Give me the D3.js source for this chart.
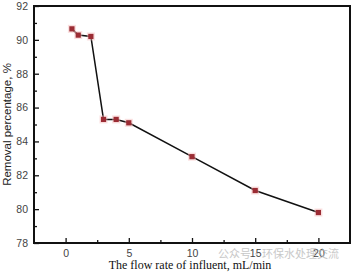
<!DOCTYPE html>
<html>
<head>
<meta charset="utf-8">
<script src="https://cdn.jsdelivr.net/npm/d3@7"></script>
<style>
  body { margin: 0; background: #fff; }
  svg { display: block; }
</style>
</head>
<body>
<div id="chart"></div>
<script>
const flowRates = [0.5, 1, 2, 3, 4, 5, 10, 15, 20];
const removal = [90.65, 90.28, 90.2, 85.3, 85.3, 85.1, 83.1, 81.1, 79.8];
const xTicks = [0, 5, 10, 15, 20];
const yTicks = [78, 80, 82, 84, 86, 88, 90, 92];

const width = 354, height = 273;
const plotLeft = 34, plotRight = 350, plotTop = 6, plotBottom = 243;

const svg = d3.select('#chart').append('svg')
  .attr('width', width)
  .attr('height', height);

const x = d3.scaleLinear().domain([-2.5, 22.5]).range([plotLeft, plotRight]);
const y = d3.scaleLinear().domain([78, 92]).range([plotBottom, plotTop]);

// minor ticks
const xMinor = [2.5, 7.5, 12.5, 17.5];
const yMinor = [79, 81, 83, 85, 87, 89, 91];

const axisColor = '#111';

// x axis (inward ticks)
svg.append('g').attr('transform', `translate(0,${plotBottom})`)
  .call(d3.axisBottom(x).tickValues(xTicks).tickSize(-5).tickPadding(7));
svg.append('g').attr('transform', `translate(0,${plotBottom})`)
  .call(d3.axisBottom(x).tickValues(xMinor).tickSize(-3).tickFormat(''));

svg.append('g').attr('transform', `translate(${plotLeft},0)`)
  .call(d3.axisLeft(y).tickValues(yTicks).tickSize(-5).tickPadding(6));
svg.append('g').attr('transform', `translate(${plotLeft},0)`)
  .call(d3.axisLeft(y).tickValues(yMinor).tickSize(-3).tickFormat(''));

svg.selectAll('.domain').remove();
svg.selectAll('.tick line').attr('stroke', axisColor).attr('stroke-width', 1.3);
svg.selectAll('.tick text')
  .attr('fill', '#444')
  .style('font-family', '"Liberation Sans", Arial, sans-serif')
  .style('font-size', '10.5px');

// frame
svg.append('rect')
  .attr('x', plotLeft).attr('y', plotTop)
  .attr('width', plotRight - plotLeft).attr('height', plotBottom - plotTop)
  .attr('fill', 'none')
  .attr('stroke', axisColor)
  .attr('stroke-width', 2);

// line
const line = d3.line().x((d, i) => x(flowRates[i])).y(d => y(d));
svg.append('path')
  .datum(removal)
  .attr('d', line)
  .attr('fill', 'none')
  .attr('stroke', '#111')
  .attr('stroke-width', 1.5);

// markers with soft halo
svg.selectAll('rect.halo')
  .data(removal)
  .join('rect')
  .attr('class', 'halo')
  .attr('x', (d, i) => x(flowRates[i]) - 4)
  .attr('y', d => y(d) - 4)
  .attr('width', 8).attr('height', 8)
  .attr('fill', '#f4b8b8')
  .attr('opacity', 0.45);
svg.selectAll('rect.pt')
  .data(removal)
  .join('rect')
  .attr('class', 'pt')
  .attr('x', (d, i) => x(flowRates[i]) - 2.6)
  .attr('y', d => y(d) - 2.6)
  .attr('width', 5.2).attr('height', 5.2)
  .attr('fill', '#9b2c34');

// axis titles
svg.append('text')
  .attr('x', (plotLeft + plotRight) / 2 - 2)
  .attr('y', 269)
  .attr('text-anchor', 'middle')
  .style('font-family', '"Liberation Serif", "Times New Roman", serif')
  .style('font-size', '12px')
  .attr('fill', '#111')
  .text('The flow rate of influent, mL/min');

svg.append('text')
  .attr('transform', `translate(11,${(plotTop + plotBottom) / 2}) rotate(-90)`)
  .attr('text-anchor', 'middle')
  .style('font-family', '"Liberation Sans", Arial, sans-serif')
  .style('font-size', '11.5px')
  .attr('fill', '#222')
  .text('Removal percentage, %');

// watermark
svg.append('text')
  .attr('x', 218).attr('y', 258)
  .style('font-family', '"Noto Sans CJK SC", sans-serif')
  .style('font-size', '11px')
  .attr('fill', '#bbb')
  .attr('opacity', 0.8)
  .text('公众号·环保水处理交流');
</script>
</body>
</html>
